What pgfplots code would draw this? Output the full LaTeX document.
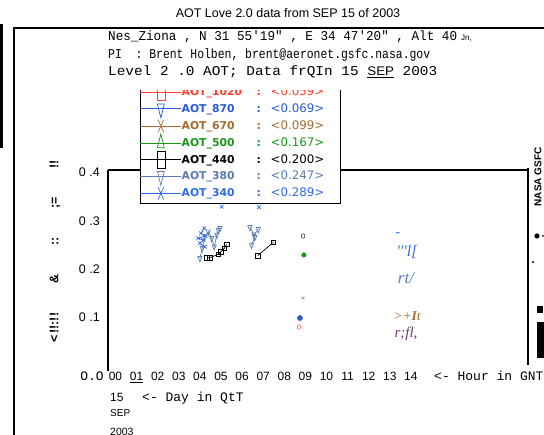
\documentclass[border=0pt]{standalone}
\usepackage{fontspec}
\usepackage{graphicx}
\usepackage{pgfplots}
\pgfplotsset{compat=1.18}
\setmainfont{Liberation Sans}
\newfontfamily\hdrfont{Liberation Mono}[WordSpace=0.55]
\newfontfamily\hdrfontw{Liberation Mono}
\newfontfamily\dejavu{DejaVu Sans}
\newfontfamily\seri{Liberation Serif}
\definecolor{redA}{HTML}{FF3B2F}
\definecolor{blueB}{HTML}{2A5CD6}
\definecolor{brownC}{HTML}{A66A2E}
\definecolor{greenD}{HTML}{1A961A}
\definecolor{steelF}{HTML}{5A7DB0}
\definecolor{blueG}{HTML}{2F6BE8}
\definecolor{purpH}{HTML}{6E3A72}
\newcommand{\legb}{\dejavu\bfseries\fontsize{10.8}{12}\selectfont}
\newcommand{\legv}{\dejavu\fontsize{11.8}{13}\selectfont}
\newcommand{\lent}[3]{\textcolor{#1}{\makebox[75pt][l]{\legb #2}\makebox[14pt][l]{\legb :}\makebox[70pt][l]{\legv #3}}}
\newcommand{\hdr}{\hdrfont\fontsize{13.5}{15}\selectfont}
\begin{document}
\begin{tikzpicture}[x=1pt,y=1pt]
\useasboundingbox (0,0) rectangle (544,435);
% frames
\draw[line width=2.3pt, line join=miter] (14,-2) -- (14,407) -- (546,407);
\draw[line width=3pt] (1.5,411) -- (1.5,287);
% title
\node[font=\fontsize{12.5}{14}\selectfont] at (288,421.5) {AOT Love 2.0 data from SEP 15 of 2003};
% header lines
\node[anchor=base west, inner sep=0pt] at (108,394) {\resizebox{349pt}{\height}{\hdr Nes\_Ziona , N 31 55'19" , E 34 47'20" , Alt 40}};
\node[anchor=base west, inner sep=0pt] at (461,394) {\fontsize{8}{9}\selectfont Jn,};
\node[anchor=base west, inner sep=0pt] at (108,376.5) {\resizebox{322pt}{\height}{\hdr PI\ \ : Brent Holben, brent@aeronet.gsfc.nasa.gov}};
\node[anchor=base west, inner sep=0pt] at (108,359) {\resizebox{329pt}{\height}{\hdrfontw\fontsize{13.5}{15}\selectfont Level 2 .0 AOT; Data frQIn 15 {\normalfont\fontsize{12.5}{14}\selectfont\underline{SEP}} 2003}};
\begin{axis}[
  at={(108pt,64pt)}, anchor=south west,
  scale only axis, width=420pt, height=201pt,
  xmin=-0.355, xmax=19.55, ymin=-0.0114, ymax=0.4056,
  axis line style={draw=none},
  clip=false, unbounded coords=jump,
  major tick length=0pt,
  xtick={0,1,2,3,4,5,6,7,8,9,10,11,12,13,14},
  xticklabels={00,\underline{01},02,03,04,05,06,07,08,09,10,11,12,13,14},
  ytick={0.1,0.2,0.3,0.4},
  yticklabels={0\ .1,0\ .2,0\ .3,0\ .4},
  xticklabel style={anchor=base, yshift=-10pt, inner sep=0pt, font=\fontsize{12}{14}\selectfont},
  yticklabel style={anchor=east, xshift=-8pt, inner sep=0pt, font=\fontsize{12.5}{14}\selectfont},
  legend image code/.code={\draw[mark repeat=2,mark phase=2,line width=0.7pt] plot coordinates {(0pt,0pt) (20.5pt,0pt) (41pt,0pt)};},
  legend cell align=left,
  legend style={at={(axis description cs:0.0762,0.8358)}, anchor=south west,
    draw=black, line width=0.8pt, fill=white, inner xsep=0pt, inner ysep=1.6pt, outer sep=0pt,
    row sep=0pt, column sep=0pt,
    nodes={inner sep=0pt, minimum height=16.1pt}},
]
\draw[line width=1.8pt] (rel axis cs:0,0) -- (rel axis cs:0,1);
\draw[line width=1.3pt] (rel axis cs:0,1) -- (rel axis cs:1,1);
\draw[line width=2.6pt] (rel axis cs:1,1.01) -- (rel axis cs:1,0.03);
% legend images
\addlegendimage{color=redA, mark=square, mark size=4pt, mark options={yscale=2.1}}
\addlegendentry{\lent{redA}{AOT\_1020}{<0.059>}}
\addlegendimage{color=blueB, mark=triangle, mark size=4pt, mark options={rotate=180,yscale=2.3}}
\addlegendentry{\lent{blueB}{AOT\_870}{<0.069>}}
\addlegendimage{color=brownC, mark=x, mark size=4pt, mark options={yscale=2.2}}
\addlegendentry{\lent{brownC}{AOT\_670}{<0.099>}}
\addlegendimage{color=greenD, mark=triangle, mark size=4pt, mark options={yscale=2.3}}
\addlegendentry{\lent{greenD}{AOT\_500}{<0.167>}}
\addlegendimage{color=black, mark=square, mark size=4pt, mark options={yscale=2.1}}
\addlegendentry{\lent{black}{AOT\_440}{<0.200>}}
\addlegendimage{color=steelF, mark=triangle, mark size=4pt, mark options={rotate=180,yscale=2.3}}
\addlegendentry{\lent{steelF}{AOT\_380}{<0.247>}}
\addlegendimage{color=blueG, mark=x, mark size=4pt, mark options={yscale=2.2}}
\addlegendentry{\lent{blueG}{AOT\_340}{<0.289>}}
% data: AOT_340
\addplot[forget plot, color=blueG, line width=0.7pt, mark=x, mark size=2.6pt] coordinates {
 (4.21,0.2846) (4.05,0.2743) (4.27,0.2693) (3.92,0.2639) (4.16,0.2604) (4.00,0.2535) (4.24,0.2465)
 (4.30,nan) (5.03,0.3295) (6.0,nan) (6.80,0.3282)};
% AOT_380
\addplot[forget plot, color=steelF, line width=0.7pt, mark=triangle, mark size=2.4pt, mark options={rotate=180,yscale=1.5}] coordinates {
 (4.00,0.2224) (4.11,0.2432) (4.24,0.2672) (4.40,0.2776) (4.56,0.2639) (4.68,0.2465) (4.80,0.2707) (4.87,0.2811) (4.95,0.2846)
 (5.5,nan) (6.37,0.2867) (6.56,0.2710) (6.77,0.2826) (6.7,nan) (6.60,0.2660) (6.45,0.2500)};
% AOT_440
\addplot[forget plot, color=black, line width=0.7pt, mark=square, mark size=2.2pt] coordinates {
 (4.33,0.2237) (4.48,0.2237) (4.87,0.2307) (5.00,0.2361) (5.16,0.2432) (5.27,0.2515)
 (6.0,nan) (6.74,0.2278) (7.48,0.2556)};
\addplot[forget plot, only marks, color=black, mark=o, mark size=1.8pt, mark options={yscale=1.3}] coordinates {(8.89,0.2687)};
% AOT_500
\addplot[forget plot, only marks, color=greenD, mark=*, mark size=2.3pt] coordinates {(8.93,0.2293)};
% AOT_670
\addplot[forget plot, only marks, color=brownC, mark=x, mark size=2pt] coordinates {(8.89,0.1400)};
% AOT_870
\addplot[forget plot, only marks, color=blueB, mark=*, mark size=2.6pt] coordinates {(8.74,0.0985)};
% AOT_1020
\addplot[forget plot, only marks, color=redA, mark=o, mark size=1.8pt, mark options={yscale=1.3}] coordinates {(8.70,0.0799)};
\end{axis}
% cover top of legend
\fill[white] (136,345) rectangle (346,356.5);
% bottom texts
\node[anchor=base east, inner sep=0pt] at (104,54) {\hdrfont\fontsize{13}{15}\selectfont O.O};
\node[anchor=base west, inner sep=0pt] at (434,54) {\hdrfont\fontsize{13}{15}\selectfont <- Hour in GNT};
\node[anchor=base west, inner sep=0pt] at (110,33) {\fontsize{12}{14}\selectfont 15};
\node[anchor=base west, inner sep=0pt] at (142,33) {\hdrfont\fontsize{13}{15}\selectfont <- Day in QtT};
\node[anchor=base west, inner sep=0pt] at (110,18) {\fontsize{10}{12}\selectfont SEP};
\node[anchor=base west, inner sep=0pt] at (110,-1) {\fontsize{10.5}{12}\selectfont 2003};
% garbled right-side texts
\node[text=blueG, font=\seri\fontsize{14}{16}\selectfont] at (398,200) {-};
\node[text=blueG, font=\seri\itshape\fontsize{16}{18}\selectfont] at (407,183) {'''l[};
\node[text=steelF, font=\seri\itshape\fontsize{17}{19}\selectfont] at (406,157) {rt/};
\node[text=brownC, font=\seri\itshape\fontsize{13.5}{15}\selectfont] at (407,119) {>+\textbf{I}t};
\node[text=purpH, font=\seri\itshape\fontsize{15}{17}\selectfont] at (406,101) {r;fl,};
% garbled y label
\node[rotate=90, inner sep=0pt, font=\bfseries\fontsize{12.5}{14}\selectfont] at (55,183.5) {\makebox[183pt]{<\,!!:!!\hfill\&\hfill::\hfill;=\hfill!!}};
% right margin
\node[rotate=90, font=\bfseries\fontsize{10}{12}\selectfont] at (538,258) {NASA GSFC};
\fill (537,199) circle (2.6);
\fill (543,199) circle (1);
\fill (533,173) circle (1.2);
\fill (537,122) rectangle (543,129);
\fill (537,77) rectangle (544,113);
\end{tikzpicture}
\end{document}
